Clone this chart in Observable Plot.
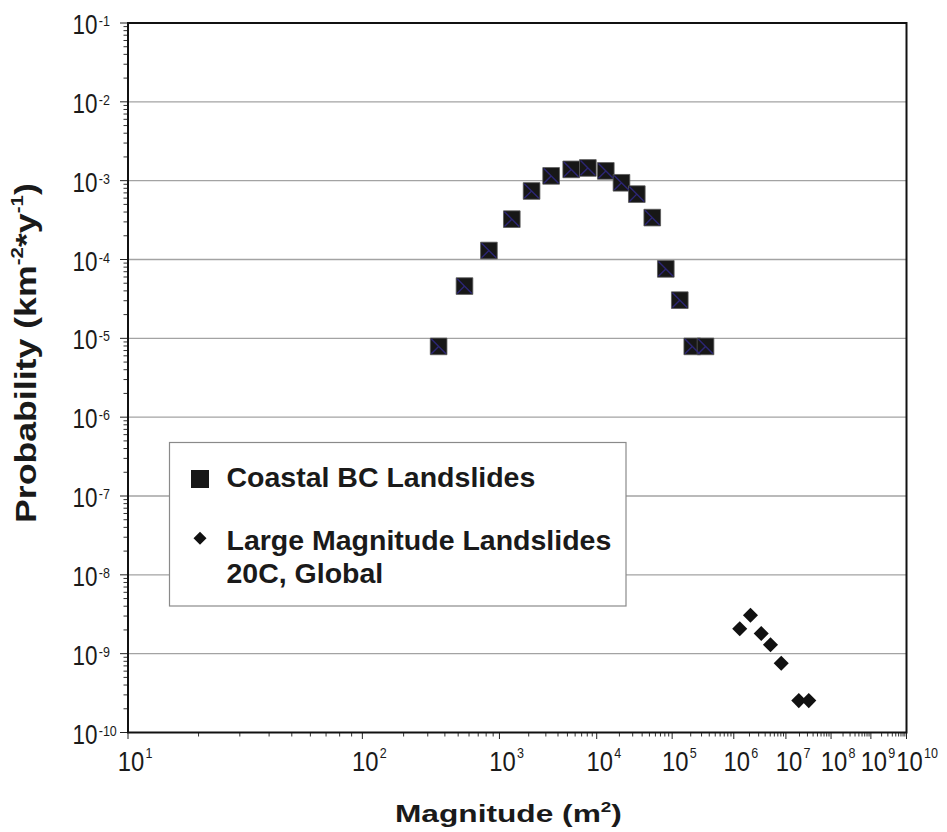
<!DOCTYPE html>
<html>
<head>
<meta charset="utf-8">
<script src="https://cdn.jsdelivr.net/npm/d3@7"></script>
<script src="https://cdn.jsdelivr.net/npm/@observablehq/plot@0.6"></script>
<style>
  body { margin: 0; background: #fff; }
  #chart { width: 947px; height: 832px; }
</style>
</head>
<body>
<div id="chart"></div>
<script>
// ---- data ----
const coastalMagnitude   = [360, 556, 838, 1340, 2140, 3400, 5470, 8110, 13200, 21300, 34000, 54500, 82400, 133000, 212000, 348000];
const coastalProbability = [7.9e-6, 4.6e-5, 1.3e-4, 3.25e-4, 7.4e-4, 1.15e-3, 1.39e-3, 1.45e-3, 1.33e-3, 9.4e-4, 6.75e-4, 3.4e-4, 7.6e-5, 3.05e-5, 7.9e-6, 7.9e-6];
const globalMagnitude    = [1.30e6, 2.09e6, 3.36e6, 5.06e6, 8.13e6, 1.93e7, 3.21e7];
const globalProbability  = [2.07e-9, 3.07e-9, 1.80e-9, 1.30e-9, 7.55e-10, 2.54e-10, 2.54e-10];
const xDecadeExponents   = [1, 2, 3, 4, 5, 6, 7, 8, 9, 10];
const yDecadeExponents   = [-10, -9, -8, -7, -6, -5, -4, -3, -2, -1];
const legendLabels       = ["Coastal BC Landslides", "Large Magnitude Landslides", "20C, Global"];
const xTitleText = ["Magnitude (m", "2", ")"];
const yTitleText = ["Probability (km", "-2", "*y", "-1", ")"];

// ---- layout ----
const W = 947, H = 832;
const mL = 127.5, mR = 41, mT = 22.5, mB = 100;
const plotW = W - mL - mR;
// each decade is log-spaced inside, decade widths shrink like log10(n)
const xRange = xDecadeExponents.map(n => mL + Math.log10(n) * plotW);
const xMin = 1, yMin = 1e-10;

const coastal = coastalMagnitude.map((m, i) => ({magnitude: m, probability: coastalProbability[i]}));
const global = globalMagnitude.map((m, i) => ({magnitude: m, probability: globalProbability[i]}));

const xMinor = [];
for (let n = 1; n < 10; n++) for (let k = 2; k <= 9; k++) xMinor.push(n + Math.log10(k));
const yMinor = [];
for (const e of yDecadeExponents.slice(0, -1)) for (let k = 2; k <= 9; k++) yMinor.push(k * Math.pow(10, e));
const yMajor = yDecadeExponents.map(e => Math.pow(10, e));

const sans = "'Liberation Sans', Arial, sans-serif";

// custom symbols
const lambda = {
  draw(ctx, size) {
    const h = Math.sqrt(size) / 2 - 1;
    ctx.moveTo(-h, -h); ctx.lineTo(h, h);
    ctx.moveTo(0, 0); ctx.lineTo(-h, h);
  }
};
const diamond = {
  draw(ctx, size) {
    const r = Math.sqrt(size) * 0.62625;
    ctx.moveTo(0, -r); ctx.lineTo(r, 0); ctx.lineTo(0, r); ctx.lineTo(-r, 0); ctx.closePath();
  }
};
const hTick = len => ({draw(ctx) { ctx.moveTo(0, 0); ctx.lineTo(-len, 0); }});
const vTick = len => ({draw(ctx) { ctx.moveTo(0, 0); ctx.lineTo(0, len); }});

const xOf = d => Math.log10(d.magnitude);

const chart = Plot.plot({
  width: W, height: H,
  marginLeft: mL, marginRight: mR, marginTop: mT, marginBottom: mB,
  style: {background: "#fff", color: "#1a1a1a"},
  x: {type: "linear", domain: xDecadeExponents, range: xRange, axis: null},
  y: {type: "log", domain: [1e-10, 1e-1], axis: null},
  marks: [
    Plot.ruleY(yMajor.slice(1, -1), {y: d => d, stroke: "#a3a3a3", strokeWidth: 1.4}),
    // ticks
    Plot.dot(yMinor, {x: () => xMin, y: d => d, symbol: hTick(4.5), fill: "none", stroke: "#333", strokeWidth: 1}),
    Plot.dot(yMajor, {x: () => xMin, y: d => d, symbol: hTick(8), fill: "none", stroke: "#222", strokeWidth: 1}),
    Plot.dot(xMinor, {x: d => d, y: () => yMin, symbol: vTick(4), fill: "none", stroke: "#333", strokeWidth: 1}),
    Plot.dot(xDecadeExponents, {x: d => d, y: () => yMin, symbol: vTick(6.5), fill: "none", stroke: "#222", strokeWidth: 1}),
    Plot.frame({stroke: "#111", strokeWidth: 2}),
    // tick labels "10|e" -> split into "10" and a superscript exponent below
    Plot.text(xDecadeExponents, {x: d => d, y: () => yMin, text: d => "10|" + d, textAnchor: "start",
      dx: -10.25, dy: 29.5, fontSize: 28.5, fontFamily: sans, fill: "#1a1a1a"}),
    Plot.text(yDecadeExponents, {x: () => xMin, y: d => Math.pow(10, d), text: d => "10~" + d, textAnchor: "start",
      dx: -55.5, dy: 2.5, fontSize: 27, fontFamily: sans, fill: "#1a1a1a"}),
    // data
    Plot.dot(coastal, {x: xOf, y: "probability", symbol: "square", r: 9.4, fill: "#171717", stroke: "#5a5a5a", strokeWidth: 0.8}),
    Plot.dot(coastal, {x: xOf, y: "probability", symbol: lambda, r: 9.4, fill: "none", stroke: "#2c2675", strokeWidth: 1.4}),
    Plot.dot(global, {x: xOf, y: "probability", symbol: diamond, r: 6.8, fill: "#111", stroke: "none"})
  ]
});

document.getElementById("chart").appendChild(chart);

const svg = d3.select(chart);

// power-of-ten tick labels: "10" + raised exponent, horizontally condensed (Arial Narrow look)
svg.selectAll("text").each(function () {
  const s = this.textContent;
  const isX = s.includes("|"), isY = s.includes("~");
  if (!isX && !isY) return;
  const [base, exp] = s.split(isX ? "|" : "~");
  const t = d3.select(this).text(null);
  const b = t.append("tspan").text(base);
  t.append("tspan").attr("font-size", 15).attr("dx", 1.5).attr("dy", isX ? -13.5 : -8).text(exp);
  const sx = (isX ? 26.5 : 25) / b.node().getComputedTextLength();
  const bx = this.getBBox().x;
  const prev = t.attr("transform") || "";
  t.attr("transform", `${prev} translate(${bx},0) scale(${sx},1) translate(${-bx},0)`);
});

// ---- titles ----
const xt = svg.append("text")
  .attr("text-anchor", "start")
  .attr("font-family", sans).attr("font-weight", "bold").attr("font-size", 23.5).attr("fill", "#1a1a1a");
xt.append("tspan").text(xTitleText[0]);
xt.append("tspan").attr("font-size", 14).attr("dy", -10).text(xTitleText[1]);
xt.append("tspan").attr("dy", 10).text(xTitleText[2]);
const xs = 227 / xt.node().getBBox().width;
xt.attr("transform", `translate(395,822) scale(${xs},1)`);

const yt = svg.append("text")
  .attr("text-anchor", "start")
  .attr("font-family", sans).attr("font-weight", "bold").attr("font-size", 29.5).attr("fill", "#1a1a1a");
yt.append("tspan").text(yTitleText[0]);
yt.append("tspan").attr("font-size", 17).attr("dy", -13).text(yTitleText[1]);
yt.append("tspan").attr("dy", 13).text(yTitleText[2]);
yt.append("tspan").attr("font-size", 17).attr("dy", -13).text(yTitleText[3]);
yt.append("tspan").attr("dy", 13).text(yTitleText[4]);
const ys = 340 / yt.node().getBBox().width;
yt.attr("transform", `translate(36,523) rotate(-90) scale(${ys},1)`);

// ---- legend ----
const lg = svg.append("g");
lg.append("rect").attr("x", 169.5).attr("y", 442.5).attr("width", 456.5).attr("height", 163.5)
  .attr("fill", "#fff").attr("stroke", "#8a8a8a").attr("stroke-width", 1.2);
lg.append("rect").attr("x", 191).attr("y", 470).attr("width", 18).attr("height", 18).attr("fill", "#171717");
lg.append("path").attr("d", "M200,531.8L206.5,538.3L200,544.8L193.5,538.3Z").attr("fill", "#111");
const lt = lg.append("g").attr("font-family", sans).attr("font-weight", "bold").attr("font-size", 28.5)
  .attr("fill", "#1a1a1a").attr("text-anchor", "start");
lt.append("text").attr("x", 226.5).attr("y", 487).text(legendLabels[0]);
lt.append("text").attr("x", 226.5).attr("y", 550).text(legendLabels[1]);
lt.append("text").attr("x", 226.5).attr("y", 583).text(legendLabels[2]);
</script>
</body>
</html>
